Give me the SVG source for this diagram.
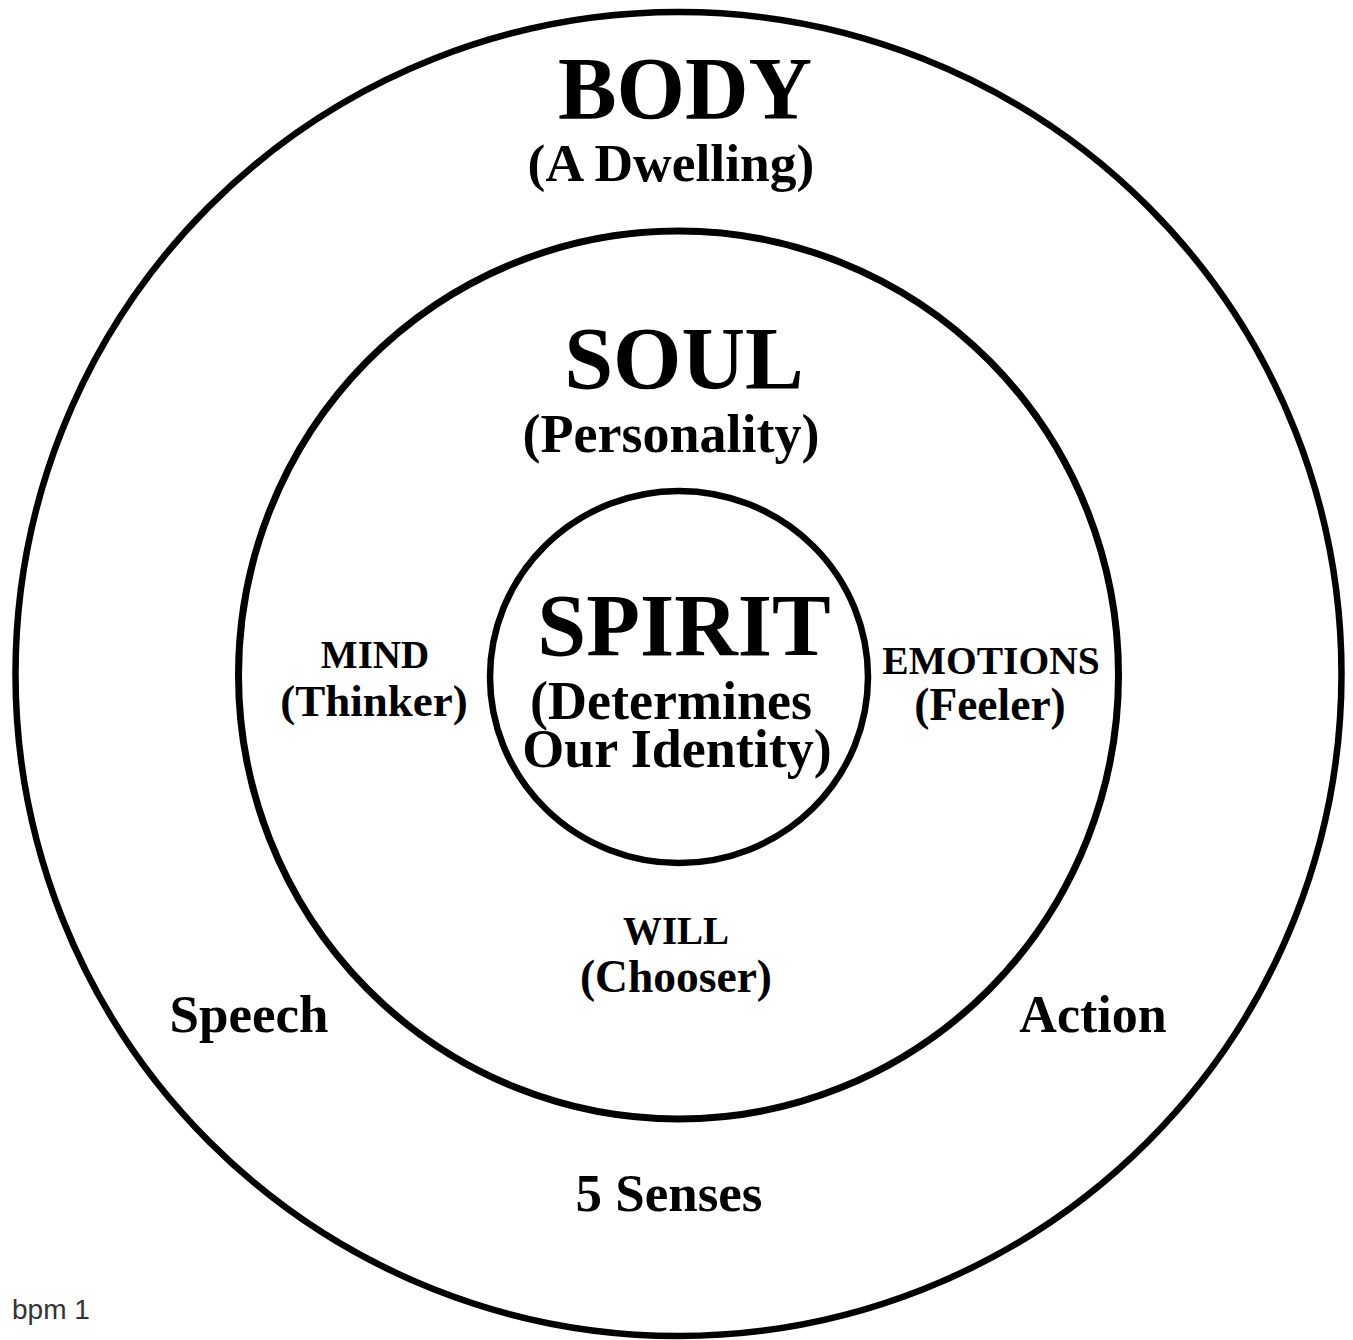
<svg xmlns="http://www.w3.org/2000/svg" width="1353" height="1340" viewBox="0 0 1353 1340">
<style>
.ring{fill:none;stroke:#000}
.t{font-family:"Liberation Serif","Times New Roman",serif;font-weight:bold;fill:#000;text-anchor:middle}
.s{font-family:"Liberation Sans",Arial,sans-serif;fill:#333}
</style>
<rect width="1353" height="1340" fill="#fff"/>
<g id="body">
<ellipse class="ring" cx="678.5" cy="674" rx="663" ry="662" stroke-width="6.5"/>
<text class="t" x="685" y="118" font-size="88">BODY</text>
<text class="t" x="671" y="181" font-size="53.5">(A Dwelling)</text>
<text class="t" x="249" y="1032" font-size="53">Speech</text>
<text class="t" x="1093" y="1032" font-size="52">Action</text>
<text class="t" x="669" y="1211" font-size="53">5 Senses</text>
</g>
<g id="soul">
<ellipse class="ring" cx="678.5" cy="675" rx="440" ry="444" stroke-width="7"/>
<text class="t" x="684" y="388" font-size="88">SOUL</text>
<text class="t" x="671" y="452" font-size="54">(Personality)</text>
</g>
<g id="mind">
<text class="t" x="375" y="668" font-size="39">MIND</text>
<text class="t" x="374" y="716" font-size="45">(Thinker)</text>
</g>
<g id="emotions">
<text class="t" x="991" y="674" font-size="39.5">EMOTIONS</text>
<text class="t" x="990" y="720" font-size="45.5">(Feeler)</text>
</g>
<g id="will">
<text class="t" x="676" y="944" font-size="39">WILL</text>
<text class="t" x="676" y="992" font-size="45.5">(Chooser)</text>
</g>
<g id="spirit">
<ellipse class="ring" cx="679" cy="677" rx="189" ry="186" stroke-width="6.5"/>
<text class="t" x="684" y="655" font-size="88">SPIRIT</text>
<text class="t" x="671" y="719" font-size="54">(Determines</text>
<text class="t" x="677" y="767" font-size="54">Our Identity)</text>
</g>
<g id="connectors"></g>
<text class="s" x="12" y="1319" font-size="28">bpm 1</text>
</svg>
